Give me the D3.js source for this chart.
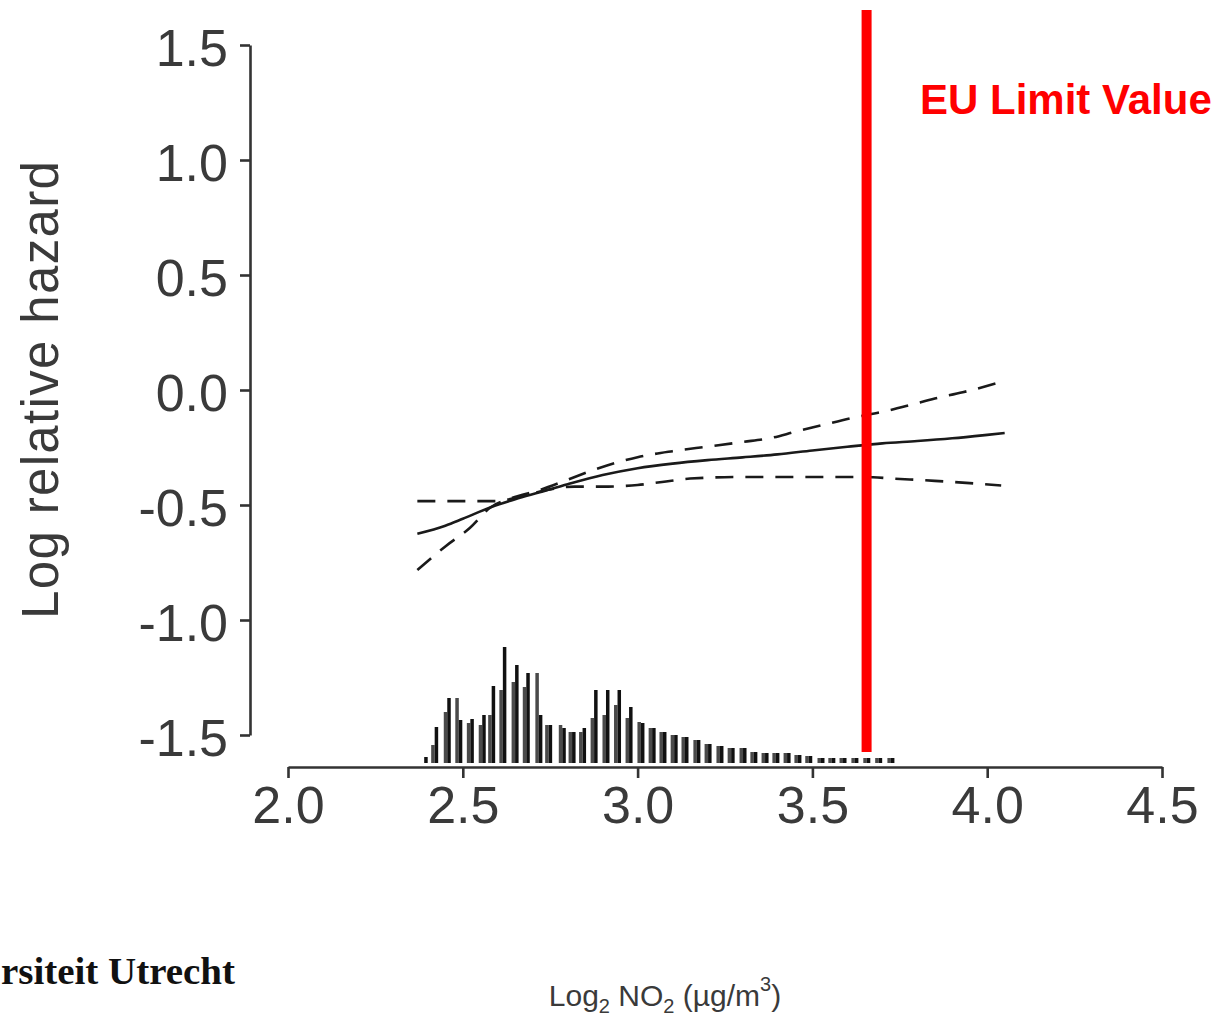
<!DOCTYPE html>
<html>
<head>
<meta charset="utf-8">
<script src="https://cdn.jsdelivr.net/npm/d3@7"></script>
<style>
  body { margin: 0; background: #fff; }
  svg { display: block; }
</style>
</head>
<body>
<div id="chart"></div>
<script>
// x ticks / y ticks
const xTicks = [2.0, 2.5, 3.0, 3.5, 4.0, 4.5];
const yTicks = [1.5, 1.0, 0.5, 0.0, -0.5, -1.0, -1.5];

// fitted log relative hazard (solid)
const fitX = [2.37, 2.45, 2.5, 2.58, 2.65, 2.72, 2.8, 2.9, 3.0, 3.1, 3.2, 3.3, 3.4, 3.5, 3.6, 3.7, 3.8, 3.9, 4.0, 4.05];
const fitY = [-0.625, -0.59, -0.56, -0.51, -0.475, -0.445, -0.41, -0.37, -0.34, -0.32, -0.305, -0.293, -0.28, -0.263, -0.247, -0.232, -0.222, -0.21, -0.195, -0.187];

// confidence band, the one starting low on the left and ending on top
const ciAX = [2.37, 2.45, 2.52, 2.58, 2.64, 2.72, 2.8, 2.87, 2.94, 3.0, 3.1, 3.2, 3.3, 3.38, 3.45, 3.53, 3.62, 3.7, 3.78, 3.85, 3.93, 4.04];
const ciAY = [-0.783, -0.68, -0.6, -0.51, -0.47, -0.435, -0.39, -0.35, -0.315, -0.292, -0.266, -0.246, -0.226, -0.209, -0.182, -0.152, -0.119, -0.095, -0.065, -0.037, -0.01, 0.035];

// confidence band, flat on the left and ending below
const ciBX = [2.37, 2.45, 2.52, 2.6, 2.66, 2.74, 2.82, 2.9, 3.0, 3.07, 3.15, 3.3, 3.5, 3.65, 3.73, 3.85, 3.95, 4.04];
const ciBY = [-0.483, -0.483, -0.483, -0.483, -0.465, -0.435, -0.42, -0.42, -0.413, -0.4, -0.385, -0.378, -0.378, -0.378, -0.385, -0.395, -0.405, -0.415];

// distribution of exposure (frequency, two strokes per bin)
const histX = [2.391, 2.421, 2.457, 2.49, 2.523, 2.557, 2.584, 2.616, 2.651, 2.683, 2.719, 2.747, 2.786, 2.814, 2.844, 2.877, 2.911, 2.944, 2.977, 3.011, 3.043, 3.074, 3.106, 3.137, 3.171, 3.203, 3.237, 3.269, 3.303, 3.334, 3.366, 3.397, 3.429, 3.46, 3.491, 3.526, 3.557, 3.589, 3.623, 3.657, 3.691, 3.726];
const histL = [0, 18, 51, 65, 40, 38, 48, 73, 81, 76, 90, 38, 38, 31, 31, 45, 48, 58, 45, 41, 35, 31, 28, 26, 23, 19, 17, 15, 15, 11, 10, 10, 10, 8, 7, 5, 5, 5, 5, 5, 5, 5];
const histR = [6, 36, 65, 43, 44, 48, 77, 116, 98, 90, 48, 38, 35, 31, 35, 73, 73, 73, 56, 40, 35, 31, 28, 26, 23, 19, 17, 15, 15, 11, 10, 10, 10, 8, 7, 5, 5, 5, 5, 5, 5, 5];

const limitValue = 3.655;
const limitLabel = "EU Limit Value";

const W = 1220, H = 1018;
const svg = d3.select("#chart").append("svg").attr("width", W).attr("height", H);

const x = d3.scaleLinear().domain([2, 4.5]).range([288, 1162]);
const y = d3.scaleLinear().domain([-1.5, 1.5]).range([735, 45]);
const h = d3.scaleLinear().domain([0, 115]).range([763, 648]);

const axisColor = "#333";
const font = "'Liberation Sans', Arial, sans-serif";

// y axis
const gy = svg.append("g").attr("transform", "translate(250,0)")
  .call(d3.axisLeft(y).tickValues(yTicks).tickSize(10).tickSizeOuter(0).tickPadding(12)
    .tickFormat(d => d.toFixed(1)));
gy.selectAll("path, line").attr("stroke", axisColor).attr("stroke-width", 2.6);
gy.selectAll("text").attr("font-size", 52).attr("font-family", font).attr("fill", "#3a3a3a").attr("dy", "0.4em");

// x axis
const gx = svg.append("g").attr("transform", "translate(0,767)")
  .call(d3.axisBottom(x).tickValues(xTicks).tickSize(11).tickSizeOuter(0).tickPadding(8)
    .tickFormat(d => d.toFixed(1)));
gx.selectAll("path, line").attr("stroke", axisColor).attr("stroke-width", 2.6);
gx.selectAll("text").attr("font-size", 52).attr("font-family", font).attr("fill", "#3a3a3a");

// histogram
const hist = svg.append("g");
hist.selectAll("rect.l").data(histX).join("rect")
  .attr("class", "l")
  .attr("x", d => x(d) - 4)
  .attr("width", 3.5)
  .attr("y", (d, i) => h(histL[i]))
  .attr("height", (d, i) => h(0) - h(histL[i]))
  .attr("fill", "#4a4a4a");
hist.selectAll("rect.r").data(histX).join("rect")
  .attr("class", "r")
  .attr("x", d => x(d) - 0.5)
  .attr("width", 3.5)
  .attr("y", (d, i) => h(histR[i]))
  .attr("height", (d, i) => h(0) - h(histR[i]))
  .attr("fill", "#111");

// curves
const line = d3.line().x(d => x(d[0])).y(d => y(d[1])).curve(d3.curveMonotoneX);
const zip = (a, b) => a.map((v, i) => [v, b[i]]);

svg.append("path").attr("d", line(zip(fitX, fitY)))
  .attr("fill", "none").attr("stroke", "#1a1a1a").attr("stroke-width", 2.6);
svg.append("path").attr("d", line(zip(ciAX, ciAY)))
  .attr("fill", "none").attr("stroke", "#1a1a1a").attr("stroke-width", 2.6)
  .attr("stroke-dasharray", "18,12");
svg.append("path").attr("d", line(zip(ciBX, ciBY)))
  .attr("fill", "none").attr("stroke", "#1a1a1a").attr("stroke-width", 2.6)
  .attr("stroke-dasharray", "18,12");

// EU limit
svg.append("rect")
  .attr("x", x(limitValue) - 5).attr("width", 10)
  .attr("y", 10).attr("height", 752 - 10)
  .attr("fill", "#ff0000");
svg.append("text")
  .attr("x", 920).attr("y", 114)
  .attr("font-family", font).attr("font-weight", "bold").attr("font-size", 42)
  .attr("fill", "#ff0000")
  .text(limitLabel);

// axis titles
svg.append("text")
  .attr("transform", "translate(58,390) rotate(-90)")
  .attr("text-anchor", "middle")
  .attr("font-family", font).attr("font-size", 51).attr("fill", "#3a3a3a")
  .attr("textLength", 458).attr("lengthAdjust", "spacing")
  .text("Log relative hazard");

const xt = svg.append("text")
  .attr("x", 665).attr("y", 1006)
  .attr("text-anchor", "middle")
  .attr("font-family", font).attr("font-size", 30).attr("fill", "#3a3a3a");
xt.append("tspan").text("Log");
xt.append("tspan").attr("font-size", 20).attr("dy", 7).text("2");
xt.append("tspan").attr("dy", -7).text(" NO");
xt.append("tspan").attr("font-size", 20).attr("dy", 7).text("2");
xt.append("tspan").attr("dy", -7).text(" (\u00b5g/m");
xt.append("tspan").attr("font-size", 20).attr("dy", -15).text("3");
xt.append("tspan").attr("dy", 15).text(")");

// footer logo text (only its visible part, as in the picture)
svg.append("text")
  .attr("x", 1).attr("y", 984)
  .attr("font-family", "'Liberation Serif', 'DejaVu Serif', serif")
  .attr("font-weight", "bold").attr("font-size", 38).attr("fill", "#111")
  .attr("textLength", 234).attr("lengthAdjust", "spacingAndGlyphs")
  .text("rsiteit Utrecht");
</script>
</body>
</html>
